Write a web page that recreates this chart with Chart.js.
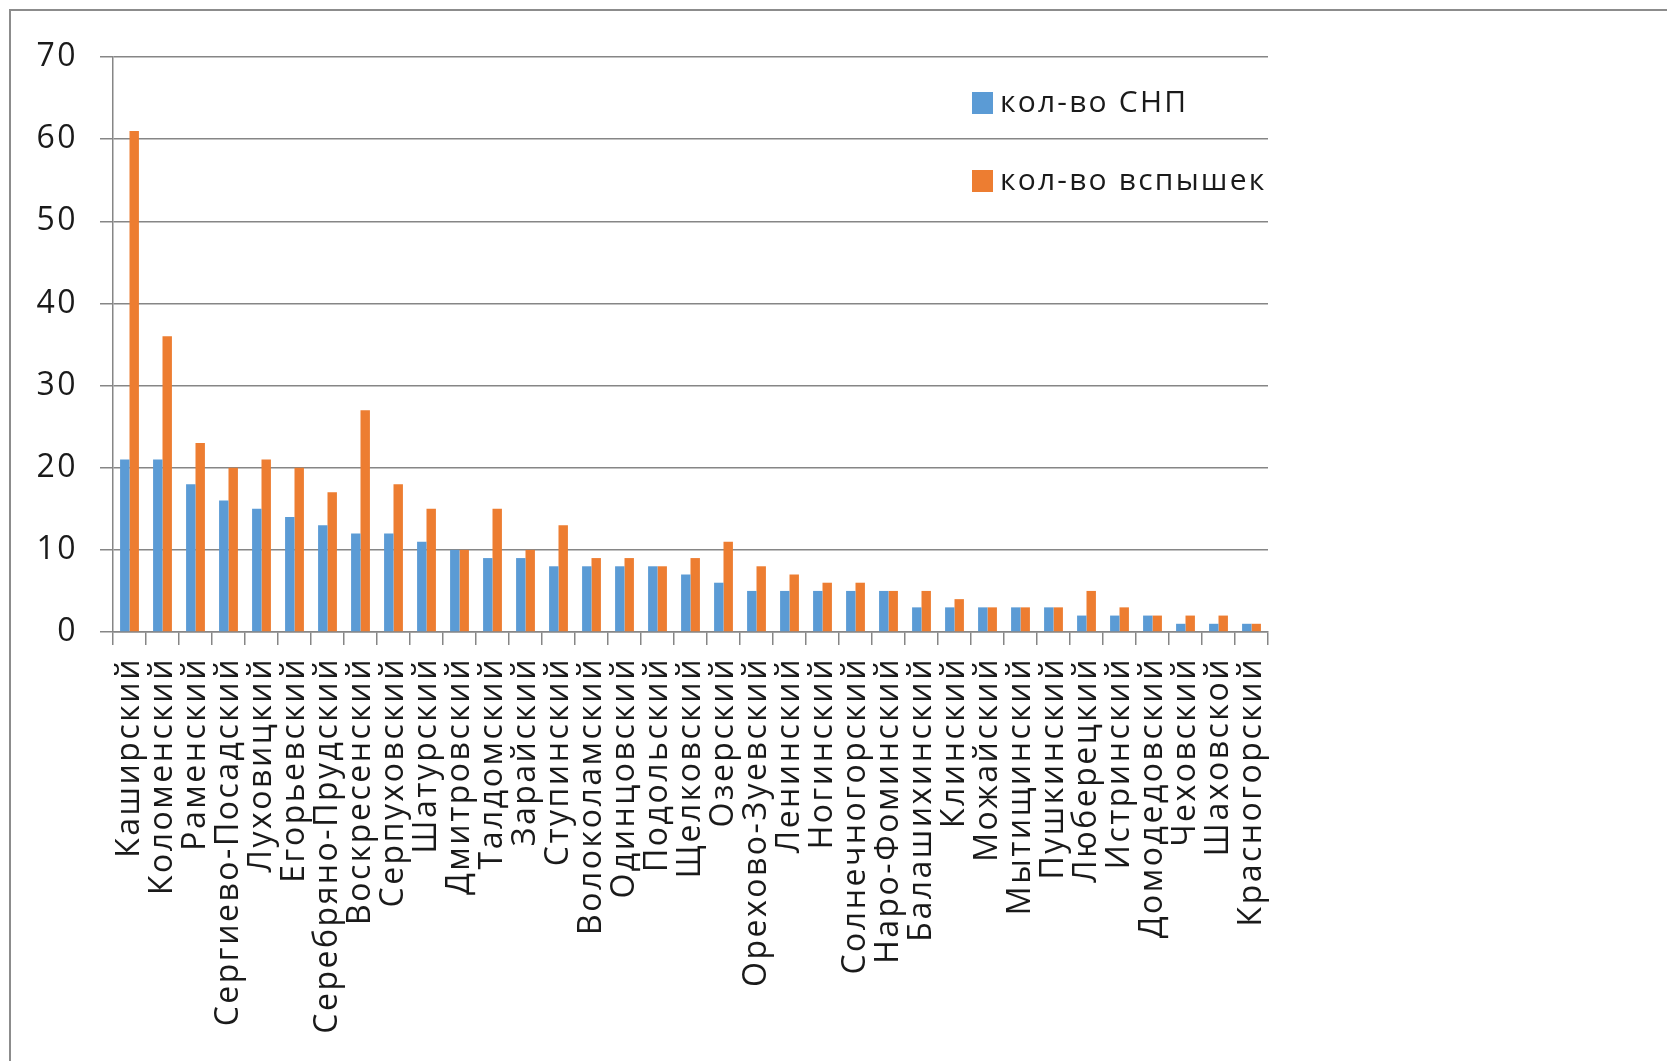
<!DOCTYPE html>
<html lang="ru">
<head>
    <meta charset="UTF-8">
    <title>кол-во СНП и вспышек</title>
    <style>
        html, body {
            margin: 0;
            padding: 0;
            background: #fff;
            overflow: hidden;
        }
        .frame {
            position: absolute;
            left: 9px;
            top: 9px;
            width: 1700px;
            height: 1100px;
            border-top: 2px solid #8c8c8c;
            border-left: 2px solid #8c8c8c;
            pointer-events: none;
        }
        .chart-box {
            position: absolute;
            left: 0;
            top: 0;
            width: 1667px;
            height: 1061px;
        }
    </style>
    <script src="https://cdn.jsdelivr.net/npm/chart.js"></script>
</head>
<body>
    <div class="chart-box"><canvas id="grafica"></canvas></div>
    <div class="frame"></div>

    <script>
        const rayony = ["Каширский", "Коломенский", "Раменский", "Сергиево-Посадский", "Луховицкий",
            "Егорьевский", "Серебряно-Прудский", "Воскресенский", "Серпуховский", "Шатурский",
            "Дмитровский", "Талдомский", "Зарайский", "Ступинский", "Волоколамский",
            "Одинцовский", "Подольский", "Щелковский", "Озерский", "Орехово-Зуевский",
            "Ленинский", "Ногинский", "Солнечногорский", "Наро-Фоминский", "Балашихинский",
            "Клинский", "Можайский", "Мытищинский", "Пушкинский", "Люберецкий",
            "Истринский", "Домодедовский", "Чеховский", "Шаховской", "Красногорский"];
        const kolvoSNP = [21, 21, 18, 16, 15, 14, 13, 12, 12, 11, 10, 9, 9, 8, 8, 8, 8, 7, 6, 5,
            5, 5, 5, 5, 3, 3, 3, 3, 3, 2, 2, 2, 1, 1, 1];
        const kolvoVspyshek = [61, 36, 23, 20, 21, 20, 17, 27, 18, 15, 10, 15, 10, 13, 9, 9, 8, 9, 11, 8,
            7, 6, 6, 5, 5, 4, 3, 3, 3, 5, 3, 2, 2, 2, 1];
        const nazvaniya = ["кол-во СНП", "кол-во вспышек"];
        const yTicks = [0, 10, 20, 30, 40, 50, 60, 70];

        const shrift = "'Open Sans', sans-serif";
        const seryi = '#868686';

        // разрядка букв, как в исходной картинке
        const razryadka = {
            id: 'razryadka',
            beforeDraw(chart) {
                chart.ctx.letterSpacing = '2.5px';
            }
        };

        // легенда внутри области графика, справа сверху (как в Excel)
        const legendaVnutri = {
            id: 'legendaVnutri',
            afterDraw(chart) {
                const c = chart.ctx;
                const area = chart.chartArea;
                c.save();
                c.letterSpacing = '2.2px';
                c.font = '30px ' + shrift;
                c.textBaseline = 'middle';
                c.textAlign = 'left';
                chart.data.datasets.forEach((ds, i) => {
                    const x = area.right - 296;
                    const y = area.top + 46 + i * 78;
                    c.fillStyle = ds.backgroundColor;
                    c.fillRect(x, y - 11, 21, 22);
                    c.fillStyle = '#1a1a1a';
                    c.fillText(ds.label, x + 28, y);
                });
                c.restore();
            }
        };

        const ctx = document.getElementById('grafica').getContext('2d');
        const chart = new Chart(ctx, {
            type: 'bar',
            data: {
                labels: rayony,
                datasets: [{
                    label: nazvaniya[0],
                    data: kolvoSNP,
                    backgroundColor: '#5b9bd5'
                }, {
                    label: nazvaniya[1],
                    data: kolvoVspyshek,
                    backgroundColor: '#ed7d31'
                }]
            },
            options: {
                responsive: true,
                maintainAspectRatio: false,
                animation: false,
                datasets: {
                    bar: {
                        categoryPercentage: 0.571,
                        barPercentage: 1.0
                    }
                },
                layout: {
                    padding: { top: 57, right: 399, left: 0, bottom: 0 }
                },
                plugins: {
                    legend: { display: false },
                    tooltip: { enabled: false }
                },
                scales: {
                    x: {
                        grid: {
                            offset: true,
                            drawOnChartArea: false,
                            tickLength: 13,
                            color: seryi,
                            lineWidth: 1.5
                        },
                        border: { color: seryi, width: 1.5 },
                        ticks: {
                            autoSkip: false,
                            minRotation: 90,
                            maxRotation: 90,
                            padding: 12,
                            color: '#1a1a1a',
                            font: { family: shrift, size: 32 }
                        },
                        afterFit(scale) { scale.height = 1061 - 632; }
                    },
                    y: {
                        min: 0,
                        max: 70,
                        afterBuildTicks(scale) {
                            scale.ticks = yTicks.map(v => ({ value: v }));
                        },
                        grid: {
                            tickLength: 13,
                            color: seryi,
                            lineWidth: 1.5
                        },
                        border: { color: seryi, width: 1.5 },
                        ticks: {
                            padding: 22,
                            color: '#1a1a1a',
                            font: { family: shrift, size: 32 }
                        },
                        afterFit(scale) { scale.width = 113; }
                    }
                }
            },
            plugins: [razryadka, legendaVnutri]
        });
    </script>
</body>
</html>
